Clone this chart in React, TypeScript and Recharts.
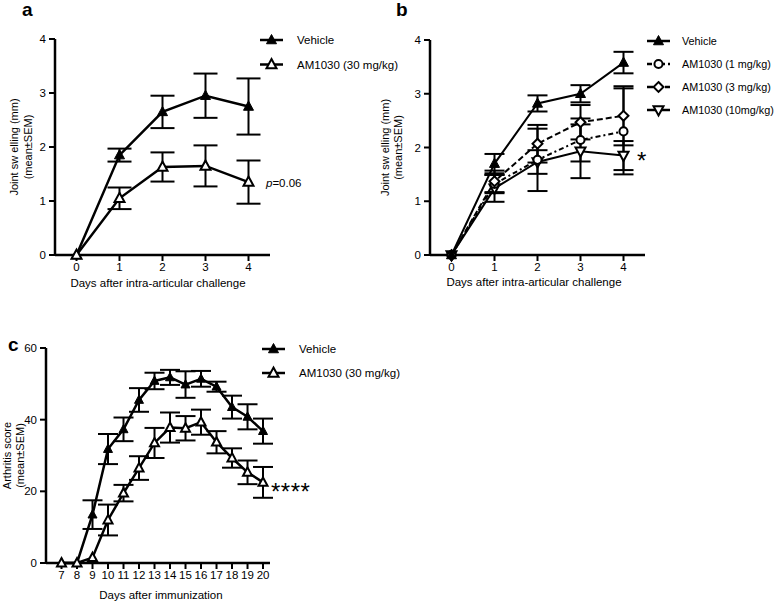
import { LineChart, Line, XAxis, YAxis, ErrorBar, Legend, Label } from 'recharts';

const FONT = '"Liberation Sans", Arial, Helvetica, sans-serif';

// panel a: joint swelling, single dose
const daysA = [0, 1, 2, 3, 4];
const vehicleA = [0, 1.85, 2.65, 2.95, 2.75];
const vehicleSemA = [0, 0.12, 0.3, 0.41, 0.52];
const am30A = [0, 1.05, 1.63, 1.65, 1.35];
const am30SemA = [0, 0.2, 0.27, 0.38, 0.4];
const yTicksA = [0, 1, 2, 3, 4];

// panel b: joint swelling, dose range
const daysB = [0, 1, 2, 3, 4];
const vehicleB = [0, 1.7, 2.82, 3.0, 3.58];
const vehicleSemB = [0, 0.18, 0.15, 0.16, 0.2];
const am1B = [0, 1.32, 1.77, 2.14, 2.3];
const am1SemB = [0, 0.17, 0.58, 0.4, 0.8];
const am3B = [0, 1.37, 2.07, 2.47, 2.59];
const am3SemB = [0, 0.2, 0.35, 0.32, 0.55];
const am10B = [0, 1.24, 1.73, 1.93, 1.85];
const am10SemB = [0, 0.25, 0.22, 0.5, 0.27];

// panel c: arthritis score
const daysC = [7, 8, 9, 10, 11, 12, 13, 14, 15, 16, 17, 18, 19, 20];
const vehicleC = [0, 0, 13.5, 31.8, 37.3, 45.5, 50.8, 51.8, 49.8, 51.4, 49.2, 43.5, 40.8, 36.8];
const vehicleSemC = [0, 0, 4, 4.2, 3.3, 3.3, 2.3, 2.1, 3.7, 2.2, 1.4, 3.2, 3.5, 3.5];
const am30C = [0, 0, 1.5, 12, 19.5, 26.5, 33.5, 37.8, 37.6, 39.3, 33.7, 29.3, 25.3, 22.5];
const am30SemC = [0, 0, 0, 4.3, 2.3, 3.3, 4.2, 4.2, 3.4, 3.5, 3.1, 2.7, 3.3, 4.3];
const yTicksC = [0, 20, 40, 60];

const dataA = daysA.map((d, i) => ({
  day: d, veh: vehicleA[i], vehErr: vehicleSemA[i], am: am30A[i], amErr: am30SemA[i],
}));
const dataB = daysB.map((d, i) => ({
  day: d,
  veh: vehicleB[i], vehErr: vehicleSemB[i],
  am1: am1B[i], am1Err: am1SemB[i],
  am3: am3B[i], am3Err: am3SemB[i],
  am10: am10B[i], am10Err: am10SemB[i],
}));
const dataC = daysC.map((d, i) => ({
  day: d, veh: vehicleC[i], vehErr: vehicleSemC[i], am: am30C[i], amErr: am30SemC[i],
}));

type Shape = 'tri' | 'triDown' | 'circle' | 'diamond';

interface MarkerProps { cx?: number; cy?: number; shape: Shape; filled: boolean; size: number }

function Marker({ cx, cy, shape, filled, size }: MarkerProps) {
  if (cx == null || cy == null) return null;
  const h = size / 2;
  const common = { fill: filled ? '#000' : '#fff', stroke: '#000', strokeWidth: filled ? 1 : 2 };
  if (shape === 'tri') {
    return <polygon points={`${cx},${cy - h * 1.1} ${cx + h},${cy + h * 0.75} ${cx - h},${cy + h * 0.75}`} {...common} />;
  }
  if (shape === 'triDown') {
    return <polygon points={`${cx},${cy + h * 1.1} ${cx + h},${cy - h * 0.75} ${cx - h},${cy - h * 0.75}`} {...common} />;
  }
  if (shape === 'circle') return <circle cx={cx} cy={cy} r={h * 0.9} {...common} />;
  return <polygon points={`${cx},${cy - h * 1.1} ${cx + h * 1.1},${cy} ${cx},${cy + h * 1.1} ${cx - h * 1.1},${cy}`} {...common} />;
}

const dot = (shape: Shape, filled: boolean, size: number) => (p: any) => (
  <Marker key={`m-${p.index}`} cx={p.cx} cy={p.cy} shape={shape} filled={filled} size={size} />
);

interface LegendItem { name: string; shape: Shape; filled: boolean; size: number; dash?: string }

function LegendBox({ items, gap, textX, fontSize }: { items: LegendItem[]; gap: number; textX: number; fontSize: number }) {
  return (
    <svg width={130} height={items.length * gap + 6} style={{ display: 'block', overflow: 'visible' }}>
      {items.map((it, i) => {
        const y = 12 + i * gap;
        return (
          <g key={it.name}>
            <line x1={2} x2={25} y1={y} y2={y} stroke="#000" strokeWidth={2.5} strokeDasharray={it.dash} />
            <Marker cx={13.5} cy={y} shape={it.shape} filled={it.filled} size={it.size} />
            <text x={textX} y={y} dominantBaseline="central" fontSize={fontSize} fill="#000" fontFamily={FONT}>
              {it.name}
            </text>
          </g>
        );
      })}
    </svg>
  );
}

const legendA: LegendItem[] = [
  { name: 'Vehicle', shape: 'tri', filled: true, size: 10 },
  { name: 'AM1030 (30 mg/kg)', shape: 'tri', filled: false, size: 10 },
];
const legendB: LegendItem[] = [
  { name: 'Vehicle', shape: 'tri', filled: true, size: 10 },
  { name: 'AM1030 (1 mg/kg)', shape: 'circle', filled: false, size: 9, dash: '5 3 2 3' },
  { name: 'AM1030 (3 mg/kg)', shape: 'diamond', filled: false, size: 9, dash: '6 3' },
  { name: 'AM1030 (10mg/kg)', shape: 'triDown', filled: false, size: 10 },
];
const legendC: LegendItem[] = [
  { name: 'Vehicle', shape: 'tri', filled: true, size: 10 },
  { name: 'AM1030 (30 mg/kg)', shape: 'tri', filled: false, size: 10 },
];

// rotated two-line y title, baselines given relative to the chart
const yTitle = (l1: string, l2: string, b1: number, b2: number) => (props: any) => {
  const vb = props.viewBox || { y: 0, height: 0 };
  const cy = vb.y + vb.height / 2;
  return (
    <g>
      <text transform={`translate(${b1}, ${cy}) rotate(-90)`} textAnchor="middle" fontSize={11} fill="#000" fontFamily={FONT}>{l1}</text>
      <text transform={`translate(${b2}, ${cy}) rotate(-90)`} textAnchor="middle" fontSize={11} fill="#000" fontFamily={FONT}>{l2}</text>
    </g>
  );
};

const xTitle = (t: string, cx: number, base: number) => () => (
  <text x={cx} y={base} textAnchor="middle" fontSize={11.5} fill="#000" fontFamily={FONT}>{t}</text>
);

const axisLine = { stroke: '#000', strokeWidth: 2.5 };
const tickLine = { stroke: '#000', strokeWidth: 2 };
const tick = { fill: '#000', fontSize: 11.5, fontFamily: FONT };

export default function App() {
  return (
    <div style={{ position: 'absolute', left: 0, top: 0, width: 778, height: 601, background: '#fff', fontFamily: FONT, overflow: 'hidden' }}>
      <div style={{ position: 'absolute', left: 0, top: 0 }}>
        <LineChart width={380} height={300} data={dataA} margin={{ top: 39, right: 110, bottom: 0, left: 0 }}>
          <XAxis type="number" dataKey="day" domain={[-0.5, 4.5]} ticks={daysA} interval={0} height={45}
            axisLine={axisLine} tickLine={tickLine} tick={tick} tickSize={6} tickMargin={2}>
            <Label content={xTitle('Days after intra-articular challenge', 158, 287)} />
          </XAxis>
          <YAxis type="number" domain={[0, 4]} ticks={yTicksA} interval={0} width={55}
            axisLine={axisLine} tickLine={tickLine} tick={tick} tickSize={6} tickMargin={3}>
            <Label content={yTitle('Joint sw elling (mm)', '(mean±SEM)', 18, 32)} />
          </YAxis>
          <Line type="linear" dataKey="veh" name="Vehicle" stroke="#000" strokeWidth={2.5}
            dot={dot('tri', true, 10)} activeDot={false} isAnimationActive={false}>
            <ErrorBar dataKey="vehErr" direction="y" width={12} strokeWidth={2} stroke="#000" />
          </Line>
          <Line type="linear" dataKey="am" name="AM1030 (30 mg/kg)" stroke="#000" strokeWidth={2.5}
            dot={dot('tri', false, 10)} activeDot={false} isAnimationActive={false}>
            <ErrorBar dataKey="amErr" direction="y" width={12} strokeWidth={2} stroke="#000" />
          </Line>
          <Legend layout="vertical" align="center" verticalAlign="middle"
            wrapperStyle={{ left: 258, top: 28, width: 120, height: 60 }}
            content={() => <LegendBox items={legendA} gap={24.5} textX={39} fontSize={11.5} />} />
        </LineChart>
      </div>

      <div style={{ position: 'absolute', left: 375, top: 0 }}>
        <LineChart width={403} height={300} data={dataB} margin={{ top: 40, right: 133, bottom: 0, left: 0 }}>
          <XAxis type="number" dataKey="day" domain={[-0.5, 4.5]} ticks={daysB} interval={0} height={45}
            axisLine={axisLine} tickLine={tickLine} tick={tick} tickSize={6} tickMargin={2}>
            <Label content={xTitle('Days after intra-articular challenge', 159, 286)} />
          </XAxis>
          <YAxis type="number" domain={[0, 4]} ticks={yTicksA} interval={0} width={55}
            axisLine={axisLine} tickLine={tickLine} tick={tick} tickSize={6} tickMargin={3}>
            <Label content={yTitle('Joint sw elling (mm)', '(mean±SEM)', 14, 27)} />
          </YAxis>
          <Line type="linear" dataKey="am10" name="AM1030 (10mg/kg)" stroke="#000" strokeWidth={2}
            dot={dot('triDown', false, 10)} activeDot={false} isAnimationActive={false}>
            <ErrorBar dataKey="am10Err" direction="y" width={10} strokeWidth={2} stroke="#000" />
          </Line>
          <Line type="linear" dataKey="am1" name="AM1030 (1 mg/kg)" stroke="#000" strokeWidth={2}
            strokeDasharray="5 3 2 3" dot={dot('circle', false, 9)} activeDot={false} isAnimationActive={false}>
            <ErrorBar dataKey="am1Err" direction="y" width={10} strokeWidth={2} stroke="#000" />
          </Line>
          <Line type="linear" dataKey="am3" name="AM1030 (3 mg/kg)" stroke="#000" strokeWidth={2}
            strokeDasharray="6 3" dot={dot('diamond', false, 9)} activeDot={false} isAnimationActive={false}>
            <ErrorBar dataKey="am3Err" direction="y" width={10} strokeWidth={2} stroke="#000" />
          </Line>
          <Line type="linear" dataKey="veh" name="Vehicle" stroke="#000" strokeWidth={2}
            dot={dot('tri', true, 10)} activeDot={false} isAnimationActive={false}>
            <ErrorBar dataKey="vehErr" direction="y" width={10} strokeWidth={2} stroke="#000" />
          </Line>
          <Legend layout="vertical" align="center" verticalAlign="middle"
            wrapperStyle={{ left: 270, top: 29, width: 130, height: 100 }}
            content={() => <LegendBox items={legendB} gap={23} textX={37} fontSize={10.8} />} />
        </LineChart>
      </div>

      <div style={{ position: 'absolute', left: 0, top: 320 }}>
        <LineChart width={420} height={281} data={dataC} margin={{ top: 28, right: 150, bottom: 0, left: 0 }}>
          <XAxis type="number" dataKey="day" domain={[6, 20.45]} ticks={daysC} interval={0} height={38}
            axisLine={axisLine} tickLine={tickLine} tick={tick} tickSize={6} tickMargin={2}>
            <Label content={xTitle('Days after immunization', 161, 279)} />
          </XAxis>
          <YAxis type="number" domain={[0, 60]} ticks={yTicksC} interval={0} width={46}
            axisLine={axisLine} tickLine={tickLine} tick={tick} tickSize={6} tickMargin={3}>
            <Label content={yTitle('Arthritis score', '(mean±SEM)', 11, 24)} />
          </YAxis>
          <Line type="linear" dataKey="veh" name="Vehicle" stroke="#000" strokeWidth={2.5}
            dot={dot('tri', true, 9)} activeDot={false} isAnimationActive={false}>
            <ErrorBar dataKey="vehErr" direction="y" width={10} strokeWidth={2} stroke="#000" />
          </Line>
          <Line type="linear" dataKey="am" name="AM1030 (30 mg/kg)" stroke="#000" strokeWidth={2.5}
            dot={dot('tri', false, 9)} activeDot={false} isAnimationActive={false}>
            <ErrorBar dataKey="amErr" direction="y" width={10} strokeWidth={2} stroke="#000" />
          </Line>
          <Legend layout="vertical" align="center" verticalAlign="middle"
            wrapperStyle={{ left: 260, top: 17, width: 130, height: 60 }}
            content={() => <LegendBox items={legendC} gap={24} textX={39} fontSize={11.5} />} />
        </LineChart>
      </div>

      <svg width={778} height={601} style={{ position: 'absolute', left: 0, top: 0, pointerEvents: 'none' }} fontFamily={FONT}>
        <text x={22} y={16} fontSize={19} fontWeight="bold" fill="#000">a</text>
        <text x={396} y={16} fontSize={19} fontWeight="bold" fill="#000">b</text>
        <text x={8} y={351} fontSize={19} fontWeight="bold" fill="#000">c</text>
        <text x={266} y={187} fontSize={11.5} fill="#000">
          <tspan fontStyle="italic">p</tspan>=0.06
        </text>
        <text x={637} y={169} fontSize={24} fill="#000">*</text>
        <text x={271} y={500} fontSize={24} letterSpacing={0.5} fill="#000">****</text>
      </svg>
    </div>
  );
}
